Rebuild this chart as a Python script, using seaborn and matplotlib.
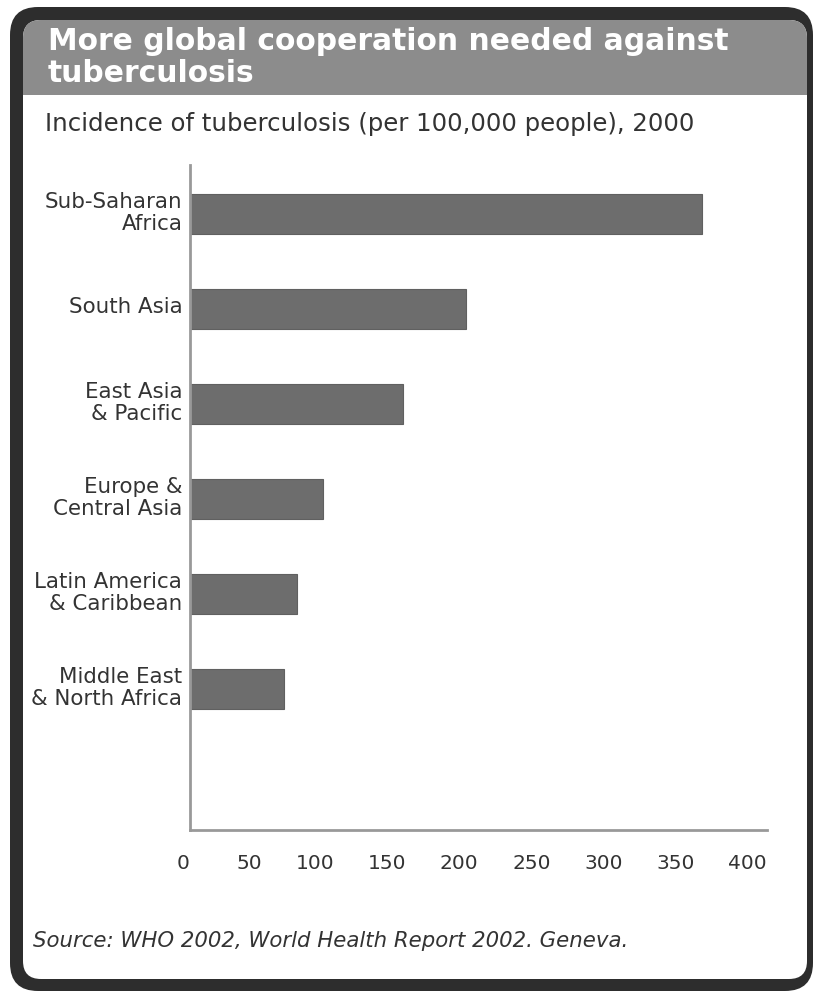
import matplotlib
matplotlib.use("Agg")
import matplotlib.pyplot as plt
import matplotlib.transforms as mtransforms
from matplotlib.patches import FancyBboxPatch, Rectangle
import seaborn as sns

# Data
regions = [
    "Sub-Saharan\nAfrica",
    "South Asia",
    "East Asia\n& Pacific",
    "Europe &\nCentral Asia",
    "Latin America\n& Caribbean",
    "Middle East\n& North Africa",
]
incidence = [355, 191, 148, 92, 74, 65]
xticks = [0, 50, 100, 150, 200, 250, 300, 350, 400]

title = "More global cooperation needed against\ntuberculosis"
subtitle = "Incidence of tuberculosis (per 100,000 people), 2000"
source = "Source: WHO 2002, World Health Report 2002. Geneva."

W, H = 814, 993
sns.set_style("white")
plt.rcParams['font.family'] = ['DejaVu Sans']

fig = plt.figure(figsize=(W / 100, H / 100), dpi=100)
fig.patch.set_facecolor("white")

# pixel coordinates (origin bottom-left) -> figure
px = mtransforms.Affine2D().scale(1 / W, 1 / H) + fig.transFigure

# frame
outer = FancyBboxPatch((10, H - 991), 803, 984,
                       boxstyle="round,pad=0,rounding_size=28",
                       fc="#2d2d2d", ec="none", transform=px, zorder=-3)
inner = FancyBboxPatch((23, H - 979), 784, 959,
                       boxstyle="round,pad=0,rounding_size=18",
                       fc="white", ec="none", transform=px, zorder=-2)
bar_bg = Rectangle((23, H - 95), 784, 76, fc="#8c8c8c", ec="none",
                   transform=px, zorder=-1)
fig.add_artist(outer)
fig.add_artist(inner)
fig.add_artist(bar_bg)
bar_bg.set_clip_path(inner)

# chart
ax = fig.add_axes([190 / W, (H - 830) / H, 577 / W, 665 / H])
ax.patch.set_alpha(0)
sns.barplot(x=incidence, y=regions, orient="h", color="#6d6d6d",
            saturation=1, width=0.42, edgecolor="#606060", linewidth=0.8,
            ax=ax)
ax.set_xlim(0, 400)
ax.set_ylim(6.484, -0.516)
ax.set_xticks(xticks)
ax.set_xticklabels([str(t) for t in xticks], ha="right")
ax.tick_params(axis="x", length=0, pad=17, labelsize=14.5, labelcolor="#333333")
ax.tick_params(axis="y", length=0, pad=5.5, labelsize=15.4, labelcolor="#333333")
shift_up = mtransforms.ScaledTranslation(0, 4 / 100, fig.dpi_scale_trans)
for lbl in ax.get_yticklabels():
    lbl.set_linespacing(1.1)
    lbl.set_transform(lbl.get_transform() + shift_up)
ax.set_xlabel("")
ax.set_ylabel("")
sns.despine(ax=ax)
for s in ["left", "bottom"]:
    ax.spines[s].set_color("#999999")
    ax.spines[s].set_linewidth(2)

# texts
fig.text(48 / W, 1 - 50 / H, "More global cooperation needed against",
         fontsize=21.4, fontweight="bold", color="white", ha="left", va="baseline")
fig.text(48 / W, 1 - 82 / H, "tuberculosis",
         fontsize=21.4, fontweight="bold", color="white", ha="left", va="baseline")
fig.text(45 / W, 1 - 131 / H, subtitle, fontsize=17.6, color="#333333",
         ha="left", va="baseline")
fig.text(33 / W, 1 - 947 / H, source, fontsize=15.3, style="italic",
         color="#333333", ha="left", va="baseline")

fig.savefig("out.png", dpi=100)
